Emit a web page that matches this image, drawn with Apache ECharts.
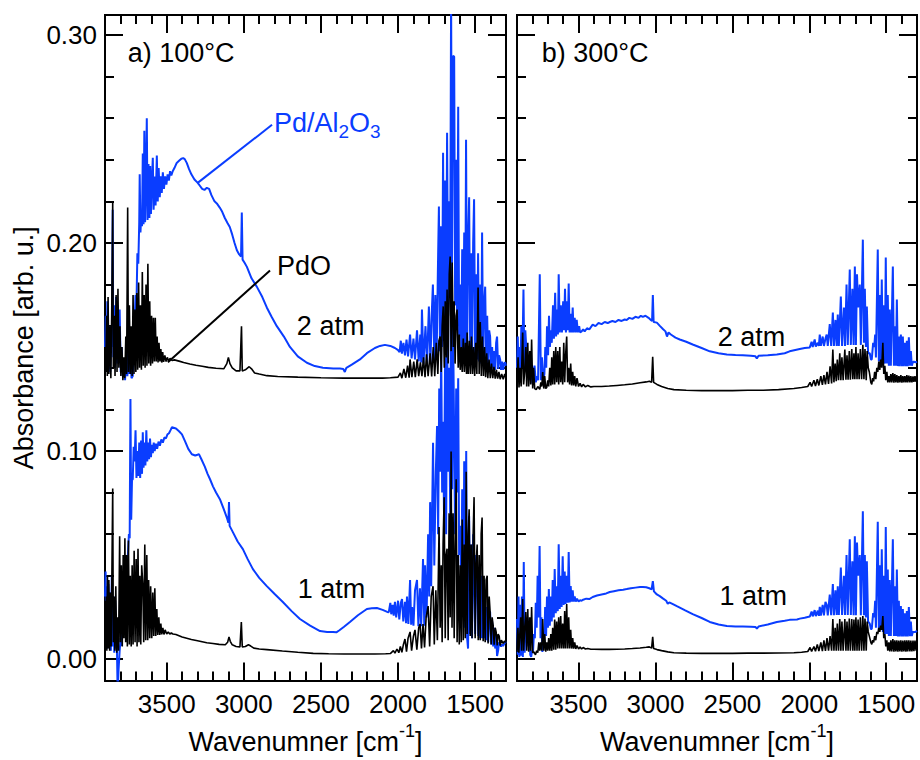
<!DOCTYPE html>
<html><head><meta charset="utf-8">
<script src="https://cdn.jsdelivr.net/npm/echarts@6/dist/echarts.min.js"></script>
<style>html,body{margin:0;padding:0;background:#fff}#c{width:920px;height:760px}</style>
</head><body><div id="c"></div>
<script>
const FONT = '"Liberation Sans", Arial, Helvetica, sans-serif';
const BLUE = '#0a3dff';
const BLACK = '#000000';

const xRange = [1300, 3900];
const yRange = [-0.0104, 0.3096];
const xMajorTicks = [1500, 2000, 2500, 3000, 3500];
const xMinorTicks = [1400, 1600, 1700, 1800, 1900, 2100, 2200, 2300, 2400, 2600, 2700, 2800, 2900, 3100, 3200, 3300, 3400, 3600, 3700, 3800];
const yMajorTicks = [0.00, 0.10, 0.20, 0.30];
const yMinorTicks = [0.02, 0.04, 0.06, 0.08, 0.12, 0.14, 0.16, 0.18, 0.22, 0.24, 0.26, 0.28];

// ---- a) 100°C, 2 atm, Pd/Al2O3 ----
const a100_2atm_PdAl2O3 = [
[3900,0.150],[3895,0.165],[3890,0.140],[3885,0.172],[3880,0.145],[3872,0.160],[3866,0.138],[3860,0.158],[3855,0.150],[3850,0.216],[3846,0.145],[3840,0.170],[3834,0.140],[3828,0.174],[3822,0.142],[3816,0.170],[3810,0.150],[3805,0.168],[3798,0.138],[3792,0.150],[3785,0.136],[3778,0.140],[3770,0.134],[3762,0.148],[3755,0.136],[3748,0.150],[3742,0.137],[3735,0.145],[3728,0.135],[3720,0.136],
[3714,0.150],[3708,0.160],[3702,0.175],[3696,0.170],[3690,0.195],[3684,0.190],[3678,0.210],[3675,0.233],[3670,0.205],[3664,0.215],[3660,0.208],[3655,0.243],[3650,0.209],[3645,0.254],[3640,0.210],[3634,0.232],[3629,0.260],[3624,0.211],[3618,0.238],[3612,0.212],[3607,0.237],[3602,0.214],[3596,0.230],[3590,0.241],[3585,0.216],[3578,0.232],[3572,0.218],[3564,0.242],[3558,0.220],[3552,0.236],[3545,0.222],[3538,0.232],[3532,0.224],[3525,0.234],[3518,0.226],[3510,0.232],[3502,0.228],[3494,0.233],[3486,0.230],[3478,0.2345],[3470,0.2325],[3461,0.2345],[3450,0.236],[3435,0.2385],[3420,0.2395],[3405,0.2405],[3393,0.2408],[3383,0.2403],
[3370,0.2385],[3355,0.2355],[3340,0.2330],[3320,0.2305],[3300,0.2290],[3285,0.2275],[3270,0.2260],[3255,0.2255],[3240,0.2265],[3225,0.2260],[3210,0.2230],[3190,0.2200],[3175,0.2190],[3156,0.2170],[3140,0.2150],[3123,0.2120],[3105,0.2095],[3091,0.2077],[3075,0.2040],[3060,0.2000],[3045,0.1965],[3030,0.1945],[3018,0.1935],[3013,0.2146],[3008,0.1920],[2995,0.1905],[2980,0.1885],
[2950,0.183],[2916,0.179],[2880,0.174],[2851,0.169],[2820,0.1645],[2786,0.160],[2740,0.155],[2701,0.150],[2650,0.1455],[2591,0.1424],[2540,0.1408],[2487,0.140],[2420,0.1396],[2377,0.1396],[2355,0.1394],[2345,0.1380],[2335,0.1400],[2300,0.1415],[2247,0.144],[2202,0.147],[2150,0.1495],[2117,0.1505],[2085,0.151],[2050,0.1505],[2020,0.1495],[2000,0.1485],
[1990,0.1475],[1982,0.1530],[1975,0.1468],[1965,0.1520],[1955,0.1460],[1945,0.1535],[1935,0.1455],[1922,0.1560],[1912,0.1445],[1900,0.1540],[1890,0.1440],[1877,0.1580],[1866,0.1430],[1856,0.1560],[1850,0.1425],[1845,0.1680],[1835,0.1420],[1822,0.1600],[1812,0.1415],[1800,0.1695],[1790,0.1420],[1782,0.1650],[1774,0.1800],[1765,0.1430],[1758,0.1750],[1750,0.1440],[1742,0.1850],[1735,0.2175],[1728,0.1480],[1722,0.2080],[1715,0.1500],[1708,0.2434],[1702,0.1600],[1695,0.2300],[1688,0.1700],[1682,0.2530],[1675,0.1650],[1669,0.2200],[1662,0.1800],[1656,0.3200],[1650,0.1900],[1643,0.2900],[1636,0.2895],[1630,0.1700],[1623,0.2400],[1617,0.1600],[1610,0.2655],[1604,0.1550],[1597,0.1800],[1590,0.1500],[1584,0.1970],[1578,0.1480],[1571,0.2050],[1565,0.1450],[1559,0.2496],[1552,0.1470],[1546,0.2000],[1539,0.2220],[1532,0.1450],[1526,0.1950],[1520,0.1440],[1513,0.2000],[1507,0.2210],[1500,0.1450],[1494,0.1850],[1487,0.1440],[1481,0.1950],[1474,0.1430],[1468,0.1800],[1461,0.1420],[1455,0.2050],[1448,0.1420],[1442,0.1700],[1435,0.1790],[1428,0.1410],[1422,0.1650],[1415,0.1400],[1409,0.1580],[1403,0.1550],[1396,0.1400],[1390,0.1500],[1383,0.1395],[1377,0.1480],[1370,0.1390],[1364,0.1520],[1358,0.1550],[1351,0.1395],[1345,0.1460],[1338,0.1440],[1332,0.1390],[1325,0.1430],[1318,0.1390],[1312,0.1420],[1306,0.1426],[1300,0.1410]
];

// ---- a) 100°C, 2 atm, PdO ----
const a100_2atm_PdO = [
[3900,0.150],[3895,0.138],[3890,0.165],[3885,0.136],[3880,0.174],[3875,0.137],[3868,0.160],[3862,0.135],[3856,0.170],[3850,0.220],[3846,0.140],[3840,0.165],[3835,0.136],[3828,0.175],[3822,0.138],[3816,0.178],[3810,0.140],[3803,0.160],[3797,0.136],[3790,0.150],[3784,0.134],[3778,0.145],[3772,0.135],[3765,0.155],[3760,0.137],[3753,0.217],[3748,0.138],[3742,0.170],[3736,0.137],[3730,0.160],[3724,0.136],[3718,0.175],[3712,0.137],[3706,0.168],[3700,0.138],[3694,0.176],[3688,0.139],[3682,0.181],[3676,0.140],[3670,0.170],[3664,0.139],[3658,0.186],[3652,0.141],[3646,0.175],[3640,0.140],[3634,0.180],[3628,0.141],[3622,0.190],[3616,0.142],[3610,0.172],[3604,0.141],[3598,0.165],[3592,0.142],[3586,0.164],[3580,0.143],[3574,0.164],[3568,0.143],[3562,0.155],[3556,0.1425],[3550,0.152],[3544,0.143],[3538,0.149],[3532,0.1425],[3526,0.1475],[3520,0.1428],[3512,0.146],[3504,0.143],[3496,0.145],[3488,0.1432],[3478,0.1445],[3465,0.1435],[3450,0.1438],[3420,0.1432],[3390,0.1425],[3350,0.1418],[3310,0.1412],[3270,0.1407],[3230,0.1402],[3180,0.1398],[3130,0.1395],[3110,0.1420],[3100,0.1450],[3090,0.1420],[3075,0.1400],[3050,0.1385],[3025,0.1385],[3015,0.1600],[3010,0.1385],[2990,0.1390],[2965,0.1405],[2950,0.1395],[2930,0.1375],[2900,0.1370],[2850,0.1362],[2780,0.1358],[2650,0.1355],[2500,0.1352],[2350,0.1350],[2200,0.1350],[2100,0.1350],[2050,0.1352],
[2000,0.1355],[1985,0.1375],[1975,0.1350],[1962,0.1395],[1950,0.1352],[1938,0.1410],[1928,0.1352],[1922,0.1440],[1910,0.1355],[1898,0.1430],[1888,0.1355],[1876,0.1440],[1866,0.1360],[1855,0.1426],[1845,0.1360],[1835,0.1450],[1825,0.1355],[1815,0.1465],[1805,0.1360],[1792,0.1470],[1782,0.1358],[1772,0.1500],[1762,0.1360],[1752,0.1520],[1742,0.1370],[1735,0.1530],[1727,0.1550],[1720,0.1380],[1714,0.1600],[1707,0.1695],[1700,0.1400],[1694,0.1720],[1688,0.1450],[1682,0.1776],[1675,0.1420],[1668,0.1850],[1662,0.1935],[1656,0.1480],[1649,0.1906],[1642,0.1500],[1636,0.1720],[1630,0.1420],[1623,0.1650],[1617,0.1680],[1610,0.1400],[1603,0.1560],[1597,0.1390],[1590,0.1500],[1584,0.1380],[1577,0.1540],[1570,0.1380],[1563,0.1520],[1556,0.1370],[1552,0.1570],[1545,0.1370],[1538,0.1530],[1531,0.1370],[1524,0.1550],[1517,0.1370],[1510,0.1500],[1503,0.1360],[1496,0.1520],[1489,0.1370],[1481,0.1786],[1474,0.1370],[1467,0.1620],[1460,0.1360],[1453,0.1550],[1446,0.1360],[1439,0.1500],[1432,0.1355],[1425,0.1470],[1418,0.1350],[1410,0.1440],[1402,0.1350],[1394,0.1420],[1386,0.1350],[1378,0.1405],[1370,0.1348],[1362,0.1390],[1354,0.1348],[1346,0.1380],[1338,0.1345],[1328,0.1370],[1318,0.1345],[1308,0.1370],[1300,0.1348]
];

// ---- a) 100°C, 1 atm, Pd/Al2O3 ----
const a100_1atm_PdAl2O3 = [
[3900,0.030],[3896,0.042],[3892,0.010],[3888,0.035],[3884,0.005],[3878,0.036],[3873,0.008],[3867,0.032],[3862,0.004],[3856,0.040],[3850,0.006],[3845,0.030],[3840,0.003],[3834,0.028],[3828,0.005],[3824,0.012],[3818,-0.016],[3812,-0.005],[3805,0.004],[3798,0.010],[3792,0.0063],[3785,0.016],[3778,0.020],[3772,0.0226],[3765,0.035],[3760,0.040],[3753,0.048],[3745,0.060],[3740,0.058],[3735,0.125],[3730,0.067],[3725,0.086],[3720,0.0864],[3714,0.102],[3708,0.095],[3702,0.110],[3696,0.087],[3690,0.100],[3684,0.088],[3678,0.104],[3672,0.087],[3666,0.105],[3660,0.089],[3655,0.109],[3650,0.092],[3644,0.104],[3638,0.093],[3632,0.110],[3626,0.095],[3620,0.104],[3614,0.096],[3608,0.106],[3602,0.097],[3596,0.103],[3590,0.099],[3584,0.104],[3578,0.100],[3570,0.1035],[3562,0.101],[3553,0.1045],[3544,0.1025],[3535,0.1055],[3525,0.104],[3515,0.1065],[3505,0.1060],[3495,0.1080],[3485,0.1085],[3475,0.1100],
[3466,0.1114],[3440,0.1108],[3420,0.1095],[3401,0.1080],[3380,0.1045],[3360,0.1010],[3337,0.0984],[3315,0.0978],[3300,0.0982],[3291,0.0985],[3275,0.0960],[3253,0.0925],[3235,0.0890],[3219,0.0864],[3200,0.0830],[3180,0.0800],[3155,0.0768],[3130,0.0720],[3110,0.0680],[3100,0.0655],[3096,0.0754],[3092,0.0640],[3071,0.0610],[3040,0.0565],[3006,0.0528],[2975,0.0480],[2941,0.0432],[2900,0.0390],[2851,0.0350],[2800,0.0312],[2747,0.0274],[2690,0.0230],[2636,0.0192],[2570,0.0160],[2506,0.0134],[2460,0.0130],[2422,0.0130],[2400,0.0128],[2380,0.0138],[2350,0.0155],[2312,0.0178],[2260,0.0210],[2202,0.0240],[2170,0.0244],[2137,0.0245],[2100,0.0236],[2070,0.0226],
[2060,0.0225],[2050,0.0270],[2044,0.0215],[2035,0.0260],[2028,0.0208],[2020,0.0275],[2012,0.0200],[2000,0.0280],[1992,0.0190],[1982,0.0270],[1974,0.0288],[1966,0.0180],[1955,0.0275],[1948,0.0172],[1942,0.0300],[1933,0.0168],[1922,0.0380],[1915,0.0165],[1909,0.0250],[1900,0.0160],[1890,0.0330],[1877,0.0380],[1868,0.0158],[1858,0.0340],[1850,0.0158],[1838,0.0480],[1830,0.0160],[1825,0.0450],[1815,0.0200],[1805,0.0600],[1798,0.0300],[1792,0.0754],[1785,0.0350],[1773,0.1040],[1765,0.0450],[1755,0.0900],[1747,0.1120],[1740,0.0600],[1733,0.1300],[1727,0.0900],[1720,0.1500],[1714,0.0800],[1708,0.1140],[1702,0.0700],[1695,0.1450],[1688,0.0600],[1682,0.1600],[1675,0.0900],[1669,0.1400],[1662,0.0700],[1656,0.1900],[1649,0.0816],[1643,0.1600],[1636,0.1056],[1630,0.0600],[1623,0.1300],[1617,0.0800],[1610,0.1350],[1604,0.0500],[1597,0.0640],[1590,0.0300],[1584,0.0816],[1577,0.0200],[1571,0.0950],[1565,0.0150],[1558,0.1000],[1552,0.0100],[1546,0.0050],[1539,0.0686],[1532,0.0120],[1526,0.0550],[1520,0.0100],[1513,0.0600],[1507,0.0446],[1500,0.0120],[1494,0.0500],[1487,0.0430],[1480,0.0110],[1474,0.0380],[1467,0.0100],[1461,0.0400],[1455,0.0100],[1448,0.0350],[1442,0.0100],[1435,0.0280],[1428,0.0090],[1422,0.0250],[1415,0.0080],[1409,0.0230],[1403,0.0226],[1396,0.0070],[1390,0.0180],[1383,0.0060],[1377,0.0150],[1370,0.0050],[1364,0.0120],[1358,0.0014],[1351,0.0040],[1345,0.0080],[1338,0.0070],[1332,0.0060],[1325,0.0070],[1319,0.0062],[1310,0.0075],[1300,0.0085]
];

// ---- a) 100°C, 1 atm, PdO ----
const a100_1atm_PdO = [
[3900,0.028],[3896,0.006],[3892,0.030],[3888,0.004],[3884,0.040],[3880,0.005],[3875,0.038],[3870,0.004],[3865,0.032],[3860,0.006],[3855,0.043],[3850,0.082],[3846,0.008],[3840,0.030],[3836,0.004],[3830,0.035],[3824,0.003],[3818,0.020],[3812,0.004],[3805,0.059],[3800,0.008],[3794,0.045],[3788,0.006],[3782,0.050],[3777,0.010],[3771,0.058],[3766,0.008],[3760,0.050],[3755,0.006],[3748,0.057],[3742,0.007],[3736,0.040],[3730,0.006],[3724,0.045],[3718,0.007],[3711,0.052],[3705,0.008],[3698,0.048],[3692,0.006],[3686,0.053],[3680,0.008],[3674,0.040],[3668,0.007],[3662,0.045],[3655,0.036],[3649,0.008],[3642,0.055],[3636,0.009],[3629,0.050],[3623,0.009],[3617,0.038],[3610,0.010],[3604,0.035],[3597,0.010],[3590,0.032],[3584,0.011],[3577,0.034],[3571,0.011],[3564,0.024],[3558,0.0115],[3551,0.020],[3545,0.0115],[3538,0.017],[3532,0.0118],[3525,0.015],[3518,0.0118],[3510,0.014],[3500,0.0120],[3490,0.0130],[3480,0.0120],[3470,0.0125],[3460,0.0120],[3440,0.0118],[3420,0.0112],[3400,0.0106],[3370,0.0100],[3340,0.0094],[3300,0.0088],[3270,0.0083],[3240,0.0078],[3200,0.0074],[3160,0.0070],[3120,0.0068],[3105,0.0080],[3096,0.0106],[3088,0.0085],[3075,0.0068],[3050,0.0060],[3025,0.0058],[3016,0.0178],[3010,0.0058],[2990,0.0060],[2970,0.0068],[2955,0.0062],[2935,0.0052],[2900,0.0048],[2850,0.0045],[2750,0.0038],[2650,0.0032],[2550,0.0027],[2450,0.0025],[2350,0.0024],[2250,0.0024],[2150,0.0024],[2080,0.0025],
[2050,0.0026],[2030,0.0040],[2020,0.0028],[2007,0.0048],[1995,0.0030],[1985,0.0060],[1975,0.0032],[1965,0.0070],[1955,0.0096],[1945,0.0035],[1935,0.0100],[1922,0.0130],[1912,0.0040],[1900,0.0110],[1890,0.0140],[1878,0.0045],[1866,0.0150],[1857,0.0168],[1848,0.0050],[1838,0.0168],[1828,0.0055],[1818,0.0200],[1805,0.0254],[1795,0.0060],[1785,0.0300],[1773,0.0350],[1765,0.0070],[1755,0.0330],[1745,0.0090],[1734,0.0634],[1727,0.0150],[1720,0.0450],[1714,0.0080],[1708,0.0550],[1701,0.0778],[1694,0.0100],[1688,0.0500],[1682,0.0530],[1675,0.0090],[1669,0.0700],[1662,0.0200],[1656,0.0998],[1650,0.0150],[1643,0.0700],[1636,0.0100],[1630,0.0550],[1623,0.0864],[1617,0.0080],[1610,0.0500],[1603,0.0070],[1597,0.0450],[1590,0.0080],[1584,0.0670],[1577,0.0090],[1571,0.0550],[1564,0.0100],[1558,0.0900],[1552,0.0120],[1545,0.0600],[1539,0.0720],[1532,0.0110],[1526,0.0550],[1520,0.0100],[1513,0.0600],[1507,0.0778],[1500,0.0100],[1494,0.0450],[1487,0.0550],[1480,0.0090],[1474,0.0500],[1467,0.0090],[1461,0.0600],[1455,0.0680],[1448,0.0085],[1442,0.0400],[1435,0.0080],[1429,0.0380],[1422,0.0400],[1416,0.0075],[1409,0.0300],[1403,0.0226],[1396,0.0070],[1390,0.0200],[1383,0.0160],[1377,0.0068],[1370,0.0150],[1364,0.0130],[1357,0.0065],[1351,0.0120],[1344,0.0110],[1338,0.0065],[1330,0.0090],[1319,0.0075],[1310,0.0085],[1300,0.0080]
];

// ---- b) 300°C, 2 atm, Pd/Al2O3 ----
const b300_2atm_PdAl2O3 = [
[3900,0.140],[3895,0.155],[3890,0.136],[3884,0.150],[3878,0.138],[3872,0.160],[3866,0.140],[3858,0.1776],[3852,0.140],[3846,0.158],[3840,0.150],[3834,0.145],[3826,0.142],[3817,0.134],[3810,0.140],[3800,0.1325],[3792,0.138],[3786,0.141],[3778,0.133],[3770,0.136],[3763,0.134],[3752,0.185],[3745,0.134],[3738,0.145],[3730,0.134],[3722,0.137],[3716,0.150],[3710,0.140],[3705,0.160],[3698,0.146],[3692,0.165],[3686,0.150],[3680,0.158],[3674,0.152],[3666,0.170],[3660,0.154],[3652,0.176],[3646,0.155],[3640,0.168],[3634,0.156],[3629,0.185],[3622,0.157],[3615,0.170],[3608,0.157],[3600,0.172],[3594,0.158],[3588,0.178],[3582,0.157],[3576,0.172],[3570,0.158],[3564,0.1805],[3558,0.157],[3552,0.166],[3545,0.157],[3538,0.169],[3532,0.157],[3525,0.164],[3518,0.157],[3512,0.163],[3504,0.157],[3496,0.160],[3490,0.157],
[3480,0.1575],[3470,0.1585],[3460,0.1575],[3445,0.159],[3430,0.1585],[3408,0.1607],[3390,0.160],[3370,0.1615],[3350,0.161],[3330,0.162],[3310,0.1615],[3297,0.162],[3280,0.1625],[3260,0.162],[3240,0.163],[3220,0.1625],[3200,0.1632],[3187,0.163],[3170,0.164],[3150,0.1635],[3130,0.1645],[3110,0.164],[3095,0.165],[3082,0.1645],[3065,0.165],[3045,0.164],[3030,0.163],[3022,0.1625],[3017,0.175],[3012,0.162],[2991,0.1617],[2970,0.160],[2950,0.1585],[2935,0.1575],[2925,0.155],[2915,0.157],[2900,0.156],[2870,0.1545],[2842,0.1536],[2800,0.1525],[2758,0.1512],[2700,0.1495],[2647,0.1479],[2590,0.147],[2536,0.1464],[2480,0.1461],[2432,0.146],[2380,0.1458],[2350,0.1455],[2341,0.1445],[2330,0.1458],[2270,0.146],[2211,0.1464],[2160,0.147],[2128,0.1479],
[2062,0.1490],[2030,0.1495],[1997,0.1498],[1985,0.1525],[1978,0.1500],[1965,0.1536],[1958,0.1502],[1945,0.1520],[1938,0.1505],[1932,0.1560],[1925,0.1505],[1913,0.1550],[1905,0.1505],[1895,0.1540],[1887,0.1560],[1880,0.1505],[1867,0.1610],[1858,0.1505],[1847,0.1666],[1840,0.1505],[1830,0.1630],[1822,0.1505],[1815,0.1656],[1808,0.1505],[1795,0.1743],[1787,0.1505],[1775,0.1690],[1768,0.1505],[1758,0.1800],[1750,0.1510],[1737,0.1872],[1730,0.1510],[1720,0.1780],[1712,0.1510],[1704,0.1887],[1697,0.1510],[1690,0.1850],[1683,0.1690],[1672,0.1800],[1665,0.1510],[1652,0.2016],[1645,0.1520],[1639,0.1780],[1632,0.1500],[1626,0.1695],[1618,0.1470],[1607,0.1470],[1600,0.1440],[1594,0.1440],[1585,0.1520],[1578,0.1500],[1572,0.1560],[1567,0.1450],[1555,0.1968],[1548,0.1430],[1540,0.1750],[1535,0.1430],[1529,0.1824],[1522,0.1430],[1516,0.1700],[1509,0.1420],[1503,0.1930],[1496,0.1420],[1490,0.1750],[1483,0.1410],[1477,0.1680],[1470,0.1410],[1457,0.1887],[1450,0.1410],[1444,0.1600],[1437,0.1410],[1431,0.1728],[1424,0.1408],[1418,0.1550],[1412,0.1408],[1405,0.1560],[1398,0.1408],[1392,0.1550],[1386,0.1408],[1379,0.1520],[1372,0.1408],[1366,0.1530],[1360,0.1408],[1353,0.1546],[1346,0.1410],[1340,0.1480],[1334,0.1410],[1327,0.1426],[1320,0.1430],[1310,0.1426],[1300,0.1430]
];

// ---- b) 300°C, 2 atm, PdO ----
const b300_2atm_PdO = [
[3900,0.131],[3893,0.145],[3887,0.1305],[3880,0.140],[3873,0.131],[3863,0.157],[3857,0.132],[3850,0.138],[3843,0.150],[3837,0.131],[3830,0.152],[3824,0.1310],[3817,0.148],[3811,0.132],[3805,0.1536],[3798,0.130],[3792,0.140],[3785,0.130],[3775,0.1295],[3765,0.131],[3752,0.1296],[3745,0.133],[3739,0.131],[3733,0.138],[3726,0.130],[3720,0.136],[3713,0.130],[3707,0.1305],[3700,0.134],[3694,0.131],[3687,0.140],[3680,0.1315],[3674,0.145],[3668,0.132],[3661,0.148],[3655,0.132],[3648,0.150],[3642,0.133],[3635,0.148],[3629,0.132],[3622,0.150],[3616,0.133],[3609,0.143],[3603,0.132],[3596,0.152],[3590,0.133],[3584,0.146],[3577,0.155],[3571,0.133],[3564,0.140],[3558,0.132],[3551,0.142],[3545,0.1315],[3538,0.138],[3532,0.1315],[3525,0.136],[3518,0.131],[3510,0.135],[3500,0.1310],[3490,0.1325],[3480,0.1308],[3470,0.132],[3455,0.1308],[3440,0.1315],[3420,0.1308],[3400,0.131],[3350,0.1310],[3300,0.1312],[3250,0.1315],[3200,0.1318],[3150,0.1322],[3100,0.1328],[3060,0.1332],[3040,0.1335],[3025,0.1330],[3018,0.1453],[3012,0.1330],[2990,0.1320],[2960,0.1310],[2920,0.1300],[2880,0.1295],[2800,0.1292],[2700,0.1290],[2600,0.1290],[2500,0.1290],[2400,0.1292],[2300,0.1292],[2200,0.1295],[2100,0.1300],[2050,0.1305],
[2010,0.1310],[1995,0.1330],[1985,0.1310],[1970,0.1340],[1960,0.1312],[1948,0.1345],[1938,0.1315],[1925,0.1360],[1915,0.1318],[1905,0.1365],[1895,0.1320],[1885,0.1380],[1875,0.1322],[1865,0.1407],[1855,0.1325],[1847,0.1488],[1840,0.1330],[1832,0.1420],[1825,0.1335],[1818,0.1440],[1810,0.1340],[1802,0.1470],[1795,0.1340],[1788,0.1450],[1780,0.1340],[1769,0.1488],[1762,0.1342],[1755,0.1460],[1748,0.1342],[1740,0.1480],[1733,0.1342],[1724,0.1490],[1717,0.1345],[1710,0.1470],[1704,0.1345],[1697,0.1500],[1690,0.1345],[1683,0.1470],[1676,0.1345],[1668,0.1490],[1660,0.1345],[1652,0.1510],[1645,0.1345],[1638,0.1490],[1630,0.1340],[1624,0.1480],[1617,0.1400],[1610,0.1380],[1600,0.1330],[1594,0.1320],[1588,0.1350],[1582,0.1335],[1575,0.1380],[1568,0.1345],[1561,0.1400],[1555,0.1380],[1548,0.1430],[1542,0.1390],[1536,0.1440],[1529,0.1400],[1522,0.1520],[1516,0.1370],[1509,0.1410],[1503,0.1340],[1496,0.1380],[1490,0.1330],[1483,0.1360],[1477,0.1330],[1470,0.1370],[1464,0.1330],[1457,0.1375],[1450,0.1328],[1444,0.1370],[1437,0.1330],[1431,0.1365],[1424,0.1328],[1418,0.1360],[1411,0.1330],[1405,0.1365],[1398,0.1328],[1392,0.1360],[1385,0.1330],[1379,0.1360],[1372,0.1330],[1366,0.1365],[1360,0.1330],[1353,0.1362],[1346,0.1330],[1340,0.1360],[1333,0.1330],[1326,0.1358],[1320,0.1332],[1313,0.1360],[1306,0.1332],[1300,0.1350]
];

// ---- b) 300°C, 1 atm, Pd/Al2O3 ----
const b300_1atm_PdAl2O3 = [
[3900,0.0192],[3895,0.0020],[3890,0.0300],[3885,0.0010],[3880,0.0260],[3874,0.0015],[3868,0.0300],[3862,0.0010],[3856,0.0466],[3850,0.0030],[3845,0.0180],[3838,0.0080],[3832,0.0200],[3826,0.0060],[3820,0.0180],[3814,0.0020],[3808,0.0010],[3802,0.0040],[3796,0.0034],[3790,0.0120],[3784,0.0100],[3778,0.0270],[3772,0.0150],[3766,0.0400],[3760,0.0200],[3753,0.0543],[3747,0.0100],[3741,0.0200],[3735,0.0034],[3729,0.0120],[3723,0.0080],[3717,0.0250],[3711,0.0110],[3705,0.0300],[3699,0.0150],[3693,0.0336],[3687,0.0160],[3680,0.0300],[3674,0.0180],[3668,0.0380],[3661,0.0200],[3655,0.0432],[3648,0.0220],[3642,0.0350],[3635,0.0230],[3629,0.0552],[3622,0.0240],[3616,0.0400],[3610,0.0250],[3603,0.0494],[3596,0.0260],[3590,0.0420],[3584,0.0265],[3577,0.0400],[3570,0.0270],[3564,0.0514],[3558,0.0272],[3551,0.0350],[3545,0.0275],[3538,0.0330],[3532,0.0276],[3525,0.0300],[3518,0.0276],[3510,0.0290],[3500,0.0276],[3490,0.0282],[3480,0.0280],
[3470,0.0285],[3450,0.0290],[3430,0.0288],[3408,0.0298],[3380,0.0305],[3350,0.0310],[3320,0.0315],[3297,0.0322],[3270,0.0326],[3240,0.0330],[3210,0.0333],[3187,0.0336],[3160,0.0340],[3130,0.0343],[3100,0.0346],[3082,0.0346],[3060,0.0345],[3040,0.0340],[3025,0.0335],[3017,0.0374],[3010,0.0325],[2991,0.0310],[2972,0.0302],[2950,0.0290],[2930,0.0280],[2920,0.0265],[2910,0.0272],[2890,0.0265],[2861,0.0254],[2810,0.0235],[2758,0.0216],[2700,0.0197],[2647,0.0178],[2590,0.0166],[2536,0.0158],[2480,0.0156],[2432,0.0156],[2380,0.0155],[2350,0.0154],[2341,0.0146],[2330,0.0156],[2270,0.0166],[2211,0.0178],[2160,0.0184],[2128,0.0188],
[2080,0.0190],[2062,0.0194],[2030,0.0198],[1997,0.0204],[1985,0.0228],[1978,0.0205],[1965,0.0235],[1958,0.0206],[1945,0.0232],[1938,0.0207],[1932,0.0250],[1925,0.0208],[1913,0.0260],[1905,0.0210],[1895,0.0274],[1887,0.0260],[1880,0.0210],[1867,0.0310],[1858,0.0210],[1847,0.0360],[1840,0.0210],[1830,0.0330],[1822,0.0212],[1815,0.0350],[1808,0.0212],[1795,0.0440],[1787,0.0212],[1775,0.0400],[1768,0.0212],[1758,0.0500],[1750,0.0212],[1737,0.0576],[1730,0.0212],[1720,0.0470],[1712,0.0210],[1704,0.0590],[1697,0.0210],[1690,0.0560],[1683,0.0400],[1672,0.0500],[1665,0.0210],[1652,0.0710],[1645,0.0210],[1639,0.0500],[1632,0.0200],[1626,0.0470],[1618,0.0180],[1607,0.0170],[1600,0.0144],[1594,0.0144],[1585,0.0220],[1578,0.0200],[1572,0.0280],[1567,0.0150],[1555,0.0660],[1548,0.0140],[1540,0.0450],[1535,0.0140],[1529,0.0528],[1522,0.0130],[1516,0.0400],[1509,0.0120],[1503,0.0634],[1496,0.0120],[1490,0.0430],[1483,0.0110],[1477,0.0380],[1470,0.0110],[1457,0.0576],[1450,0.0110],[1444,0.0350],[1437,0.0110],[1431,0.0430],[1424,0.0108],[1418,0.0280],[1412,0.0108],[1405,0.0254],[1398,0.0108],[1392,0.0240],[1386,0.0108],[1379,0.0220],[1372,0.0108],[1366,0.0230],[1360,0.0108],[1353,0.0250],[1346,0.0110],[1340,0.0180],[1334,0.0110],[1327,0.0130],[1320,0.0130],[1310,0.0130],[1300,0.0135]
];

// ---- b) 300°C, 1 atm, PdO ----
const b300_1atm_PdO = [
[3900,0.0034],[3894,0.0150],[3888,0.0030],[3876,0.0200],[3870,0.0040],[3863,0.0288],[3857,0.0040],[3850,0.0150],[3843,0.0226],[3837,0.0040],[3830,0.0240],[3824,0.0035],[3817,0.0200],[3811,0.0040],[3805,0.0250],[3798,0.0030],[3790,0.0034],[3780,0.0020],[3772,0.0040],[3765,0.0030],[3758,0.0080],[3752,0.0040],[3745,0.0080],[3739,0.0040],[3733,0.0192],[3726,0.0040],[3720,0.0120],[3713,0.0035],[3707,0.0080],[3700,0.0040],[3694,0.0100],[3687,0.0040],[3680,0.0120],[3674,0.0040],[3668,0.0150],[3661,0.0045],[3655,0.0190],[3648,0.0045],[3642,0.0180],[3635,0.0050],[3629,0.0200],[3622,0.0050],[3616,0.0206],[3609,0.0050],[3603,0.0170],[3596,0.0050],[3590,0.0230],[3584,0.0050],[3577,0.0264],[3571,0.0050],[3564,0.0200],[3558,0.0050],[3551,0.0140],[3545,0.0050],[3538,0.0100],[3532,0.0050],[3525,0.0080],[3518,0.0048],[3510,0.0065],[3500,0.0048],[3490,0.0058],[3480,0.0048],[3470,0.0055],[3455,0.0048],[3440,0.0050],[3420,0.0047],[3400,0.0047],[3350,0.0046],[3300,0.0046],[3250,0.0047],[3200,0.0048],[3150,0.0050],[3100,0.0053],[3060,0.0056],[3040,0.0058],[3025,0.0052],[3018,0.0106],[3012,0.0050],[2990,0.0045],[2960,0.0040],[2920,0.0034],[2880,0.0030],[2800,0.0028],[2700,0.0027],[2600,0.0027],[2500,0.0027],[2400,0.0028],[2300,0.0028],[2200,0.0029],[2100,0.0030],[2050,0.0032],
[2010,0.0036],[1995,0.0055],[1985,0.0036],[1970,0.0060],[1960,0.0037],[1948,0.0070],[1938,0.0038],[1925,0.0080],[1915,0.0038],[1905,0.0090],[1895,0.0039],[1885,0.0100],[1875,0.0040],[1865,0.0110],[1855,0.0040],[1847,0.0192],[1840,0.0040],[1832,0.0150],[1825,0.0040],[1818,0.0170],[1810,0.0040],[1802,0.0192],[1795,0.0040],[1788,0.0180],[1780,0.0040],[1769,0.0192],[1762,0.0040],[1755,0.0180],[1748,0.0040],[1740,0.0195],[1733,0.0040],[1724,0.0192],[1717,0.0040],[1710,0.0190],[1704,0.0040],[1697,0.0200],[1690,0.0040],[1683,0.0190],[1676,0.0040],[1668,0.0200],[1660,0.0040],[1652,0.0206],[1645,0.0040],[1638,0.0195],[1630,0.0040],[1624,0.0180],[1617,0.0130],[1610,0.0110],[1600,0.0080],[1594,0.0070],[1588,0.0090],[1582,0.0080],[1575,0.0110],[1568,0.0090],[1561,0.0130],[1555,0.0120],[1548,0.0150],[1542,0.0130],[1536,0.0160],[1529,0.0140],[1522,0.0206],[1516,0.0100],[1509,0.0120],[1503,0.0060],[1496,0.0090],[1490,0.0040],[1483,0.0080],[1477,0.0036],[1470,0.0090],[1464,0.0036],[1457,0.0096],[1450,0.0035],[1444,0.0090],[1437,0.0036],[1431,0.0090],[1424,0.0035],[1418,0.0088],[1411,0.0036],[1405,0.0090],[1398,0.0035],[1392,0.0088],[1385,0.0036],[1379,0.0090],[1372,0.0035],[1366,0.0090],[1360,0.0036],[1353,0.0090],[1346,0.0036],[1340,0.0088],[1333,0.0036],[1326,0.0088],[1320,0.0038],[1313,0.0088],[1306,0.0040],[1300,0.0070]
];

// ---- annotation anchors (data coordinates) ----
const panelTitles = [
  {grid: 0, at: [3753, 0.2914], text: 'a) 100°C'},
  {grid: 1, at: [3739, 0.2914], text: 'b) 300°C'}
];
const pressureLabels = [
  {grid: 0, at: [2656, 0.1603], text: '2 atm'},
  {grid: 0, at: [2650, 0.0336], text: '1 atm'},
  {grid: 1, at: [2595, 0.1550], text: '2 atm'},
  {grid: 1, at: [2584, 0.0302], text: '1 atm'}
];
const sampleLabels = [
  {grid: 0, at: [2805, 0.2578], text: '{n|Pd/Al}{s|2}{n|O}{s|3}', color: BLUE, from: [3297, 0.2290], to: [2817, 0.2568]},
  {grid: 0, at: [2785, 0.1887], text: '{n|PdO}', color: BLACK, from: [3492, 0.1426], to: [2830, 0.1868]}
];

const chart = echarts.init(document.getElementById('c'), null, {renderer: 'svg'});

function xAxis(grid, position, ticks, len, withLabels) {
  const a = {
    type: 'value', gridIndex: grid, position: position, inverse: true,
    min: xRange[0], max: xRange[1],
    axisLine: {show: true, onZero: false, lineStyle: {color: '#000', width: 2}},
    axisTick: {show: true, inside: true, length: len, customValues: ticks, lineStyle: {color: '#000', width: 2}},
    axisLabel: {show: false},
    splitLine: {show: false}
  };
  if (withLabels) {
    a.axisLabel = {show: true, customValues: ticks, fontFamily: FONT, fontSize: 26, color: '#000', margin: 10, formatter: v => String(v)};
    a.name = '{n|Wavenumner [cm}{s|-1}{n|]}';
    a.nameLocation = 'middle';
    a.nameGap = 38;
    a.nameTextStyle = {fontFamily: FONT, color: '#000', rich: {
      n: {fontFamily: FONT, fontSize: 27, lineHeight: 40, color: '#000'},
      s: {fontFamily: FONT, fontSize: 18, lineHeight: 16, verticalAlign: 'top', color: '#000'}
    }};
  }
  return a;
}
function yAxis(grid, position, ticks, len, withLabels) {
  const a = {
    type: 'value', gridIndex: grid, position: position,
    min: yRange[0], max: yRange[1],
    axisLine: {show: true, onZero: false, lineStyle: {color: '#000', width: 2}},
    axisTick: {show: true, inside: true, length: len, customValues: ticks, lineStyle: {color: '#000', width: 2}},
    axisLabel: {show: false},
    splitLine: {show: false}
  };
  if (withLabels) {
    a.axisLabel = {show: true, customValues: ticks, fontFamily: FONT, fontSize: 26, color: '#000', margin: 8, formatter: v => v.toFixed(2)};
    a.name = 'Absorbance [arb. u.]';
    a.nameLocation = 'middle';
    a.nameGap = 68;
    a.nameTextStyle = {fontFamily: FONT, fontSize: 27, color: '#000'};
  }
  return a;
}

const xAxes = [], yAxes = [];
[0, 1].forEach(g => {
  xAxes.push(xAxis(g, 'bottom', xMajorTicks, 18, true));
  xAxes.push(xAxis(g, 'bottom', xMinorTicks, 9, false));
  xAxes.push(xAxis(g, 'top', xMajorTicks, 18, false));
  xAxes.push(xAxis(g, 'top', xMinorTicks, 9, false));
  yAxes.push(yAxis(g, 'left', yMajorTicks, 18, g === 0));
  yAxes.push(yAxis(g, 'left', yMinorTicks, 9, false));
  yAxes.push(yAxis(g, 'right', yMajorTicks, 18, false));
  yAxes.push(yAxis(g, 'right', yMinorTicks, 9, false));
});

function spectrum(name, data, grid, color, width, z) {
  return {
    name: name, type: 'line', data: data, xAxisIndex: grid * 4, yAxisIndex: grid * 4,
    showSymbol: false, symbol: 'none', clip: true, silent: true, z: z,
    lineStyle: {color: color, width: width}, itemStyle: {color: color}
  };
}

chart.setOption({
  animation: false,
  backgroundColor: '#fff',
  grid: [
    {left: 105, top: 15, width: 401, height: 667, containLabel: false},
    {left: 517, top: 15, width: 400, height: 667, containLabel: false}
  ],
  xAxis: xAxes,
  yAxis: yAxes,
  series: [
    spectrum('a 1atm Pd/Al2O3', a100_1atm_PdAl2O3, 0, BLUE, 2, 2),
    spectrum('a 2atm Pd/Al2O3', a100_2atm_PdAl2O3, 0, BLUE, 2, 2),
    spectrum('a 1atm PdO', a100_1atm_PdO, 0, BLACK, 1.6, 3),
    spectrum('a 2atm PdO', a100_2atm_PdO, 0, BLACK, 1.6, 3),
    spectrum('b 1atm Pd/Al2O3', b300_1atm_PdAl2O3, 1, BLUE, 2, 2),
    spectrum('b 2atm Pd/Al2O3', b300_2atm_PdAl2O3, 1, BLUE, 2, 2),
    spectrum('b 1atm PdO', b300_1atm_PdO, 1, BLACK, 1.6, 3),
    spectrum('b 2atm PdO', b300_2atm_PdO, 1, BLACK, 1.6, 3)
  ]
});

function px(grid, pt) { return chart.convertToPixel({xAxisIndex: grid * 4, yAxisIndex: grid * 4}, pt); }
const graphics = [];
panelTitles.concat(pressureLabels).forEach(a => {
  const p = px(a.grid, a.at);
  graphics.push({type: 'text', x: p[0], y: p[1], z: 10, style: {
    text: a.text, fill: '#000', fontFamily: FONT, fontSize: 27,
    align: 'left', verticalAlign: 'middle', textAlign: 'left', textVerticalAlign: 'middle'}});
});
sampleLabels.forEach(a => {
  const p = px(a.grid, a.at);
  const f = px(a.grid, a.from), t = px(a.grid, a.to);
  graphics.push({type: 'line', z: 10, shape: {x1: f[0], y1: f[1], x2: t[0], y2: t[1]}, style: {stroke: a.color, lineWidth: 2}});
  graphics.push({type: 'text', x: p[0], y: p[1], z: 10, style: {
    text: a.text, fill: a.color, fontFamily: FONT, fontSize: 27,
    align: 'left', verticalAlign: 'middle', textAlign: 'left', textVerticalAlign: 'middle',
    rich: {
      n: {fill: a.color, fontFamily: FONT, fontSize: 27, lineHeight: 36},
      s: {fill: a.color, fontFamily: FONT, fontSize: 19, lineHeight: 18, verticalAlign: 'bottom'}
    }}});
});
chart.setOption({graphic: graphics});
</script>
</body></html>
